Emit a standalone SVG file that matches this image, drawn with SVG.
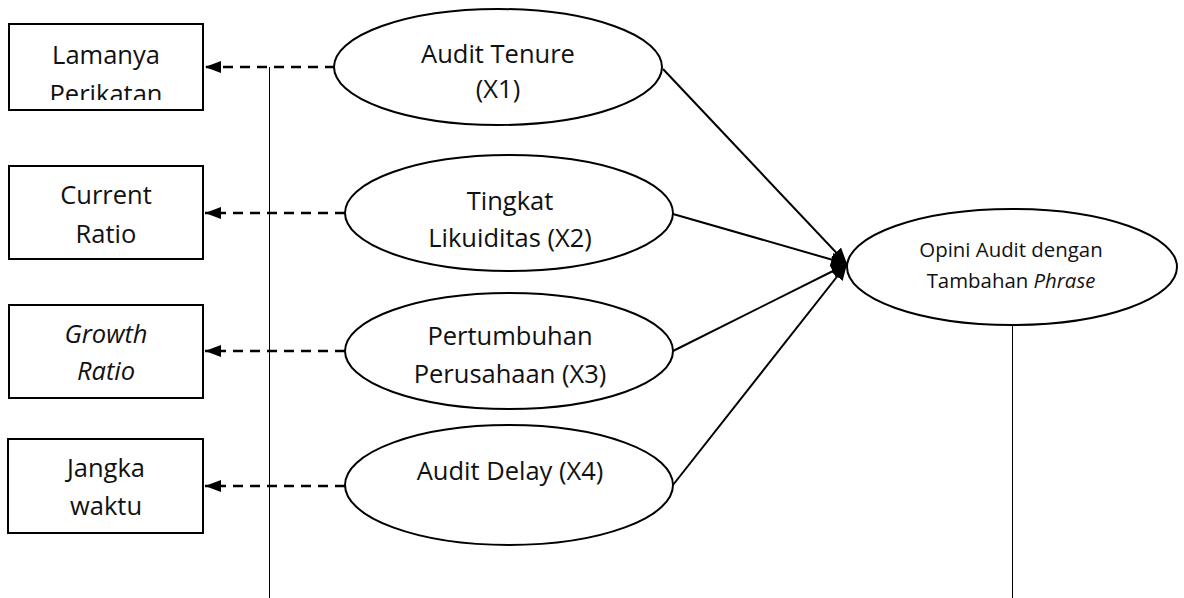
<svg xmlns="http://www.w3.org/2000/svg" width="1184" height="598" viewBox="0 0 1184 598">
<style>
.box{fill:#fff;stroke:#000;stroke-width:2}
.ell{fill:#fff;stroke:#000;stroke-width:2}
.t{font-family:"Open Sans","Noto Sans",sans-serif;font-size:25.5px;fill:#111;text-anchor:middle}
.ts{font-family:"Open Sans","Noto Sans",sans-serif;font-size:20.4px;fill:#111;text-anchor:middle}
.i{font-style:italic}
.dash{stroke:#000;stroke-width:2.4;stroke-dasharray:10 7;fill:none}
.solid{stroke:#000;stroke-width:2;fill:none}
.thin{stroke:#000;stroke-width:1;fill:none}
</style>
<defs>
<marker id="ah" viewBox="0 0 16 12" refX="16" refY="6" markerWidth="16" markerHeight="12" markerUnits="userSpaceOnUse" orient="auto">
<path d="M0,0 L16,6 L0,12 z" fill="#000" stroke="none"/>
</marker>
<marker id="ah2" viewBox="0 0 16 14" refX="16" refY="7" markerWidth="16" markerHeight="14" markerUnits="userSpaceOnUse" orient="auto">
<path d="M0,0 L16,7 L0,14 z" fill="#000" stroke="none"/>
</marker>
<clipPath id="c1"><rect x="10" y="25" width="192" height="75"/></clipPath>
</defs>
<g id="connectors">
<line class="thin" x1="269.5" y1="67" x2="269.5" y2="598"/>
<line class="thin" x1="1012.5" y1="325" x2="1012.5" y2="598"/>
<line class="dash" x1="335" y1="67" x2="205" y2="67" marker-end="url(#ah)"/>
<line class="dash" x1="345" y1="213" x2="205" y2="213" marker-end="url(#ah)"/>
<line class="dash" x1="345" y1="351" x2="205" y2="351" marker-end="url(#ah)"/>
<line class="dash" x1="345" y1="486" x2="205" y2="486" marker-end="url(#ah)"/>
<line class="solid" x1="663" y1="69" x2="847" y2="264" marker-end="url(#ah2)"/>
<line class="solid" x1="673" y1="214" x2="847" y2="264" marker-end="url(#ah2)"/>
<line class="solid" x1="673" y1="351" x2="847" y2="264" marker-end="url(#ah2)"/>
<line class="solid" x1="673" y1="485" x2="847" y2="264" marker-end="url(#ah2)"/>
</g>
<g id="box1">
<rect class="box" x="9" y="24" width="194" height="86"/>
<g clip-path="url(#c1)">
<text class="t" x="106" y="64">Lamanya</text>
<text class="t" x="106" y="103">Perikatan</text>
</g>
</g>
<g id="box2">
<rect class="box" x="9" y="166" width="194" height="93"/>
<text class="t" x="106" y="204">Current</text>
<text class="t" x="106" y="243">Ratio</text>
</g>
<g id="box3">
<rect class="box" x="9" y="305" width="194" height="93"/>
<text class="t i" x="106" y="343">Growth</text>
<text class="t i" x="106" y="380">Ratio</text>
</g>
<g id="box4">
<rect class="box" x="8" y="439" width="195" height="94"/>
<text class="t" x="106" y="477">Jangka</text>
<text class="t" x="106" y="515">waktu</text>
</g>
<g id="x1">
<ellipse class="ell" cx="498" cy="67" rx="164" ry="58"/>
<text class="t" x="498" y="63">Audit Tenure</text>
<text class="t" x="498" y="98">(X1)</text>
</g>
<g id="x2">
<ellipse class="ell" cx="509" cy="213" rx="164" ry="58"/>
<text class="t" x="510" y="210">Tingkat</text>
<text class="t" x="510" y="247">Likuiditas (X2)</text>
</g>
<g id="x3">
<ellipse class="ell" cx="509" cy="351" rx="164" ry="58"/>
<text class="t" x="510" y="345">Pertumbuhan</text>
<text class="t" x="510" y="383">Perusahaan (X3)</text>
</g>
<g id="x4">
<ellipse class="ell" cx="509" cy="485" rx="164" ry="60"/>
<text class="t" x="510" y="480">Audit Delay (X4)</text>
</g>
<g id="y">
<ellipse class="ell" cx="1012" cy="267" rx="165" ry="58"/>
<text class="ts" x="1011" y="257">Opini Audit dengan</text>
<text class="ts" x="1011" y="288">Tambahan <tspan class="i">Phrase</tspan></text>
</g>
</svg>
